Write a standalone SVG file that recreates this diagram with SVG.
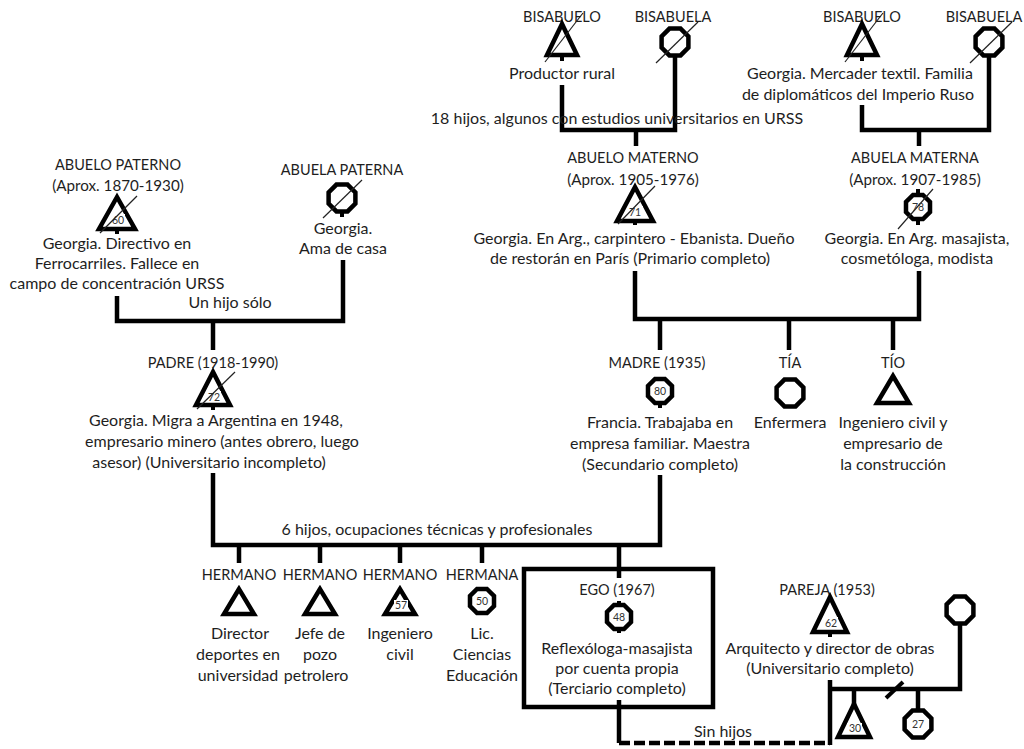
<svg xmlns="http://www.w3.org/2000/svg" xmlns:xlink="http://www.w3.org/1999/xlink" width="1024" height="749" viewBox="0 0 1024 749">
<style>
text{font-family:Lato,"Open Sans","Liberation Sans",sans-serif;font-size:16px;fill:#1e1e1e;text-anchor:middle}
.cap{font-size:14.5px}
.yr{font-size:15.2px}
.num{font-size:10.5px;fill:#333}
.nb{fill:#fff}
.sym{fill:#fff;stroke:#000;stroke-width:4.5;stroke-linejoin:miter}
.ln{fill:none;stroke:#000;stroke-width:4.5;stroke-linecap:butt;stroke-linejoin:miter}
.dash{fill:none;stroke:#000;stroke-width:4.5;stroke-dasharray:11 4}
.dead{stroke:#222;stroke-width:1.2}
</style>
<defs>
<polygon id="octL" class="sym" points="5.55,-13.4 13.4,-5.55 13.4,5.55 5.55,13.4 -5.55,13.4 -13.4,5.55 -13.4,-5.55 -5.55,-13.4"/>
<polygon id="octS" class="sym" points="4.97,-12.01 12.01,-4.97 12.01,4.97 4.97,12.01 -4.97,12.01 -12.01,4.97 -12.01,-4.97 -4.97,-12.01"/>
</defs>
<rect width="1024" height="749" fill="#fff"/>

<g id="connectors">
<path class="ln" d="M562,85 V130 H675 V56"/>
<path class="ln" d="M636,130 V146"/>
<path class="ln" d="M862,105 V130 H989 V56"/>
<path class="ln" d="M919,130 V146"/>
<path class="ln" d="M117,296 V321 H343 V260"/>
<path class="ln" d="M213,321 V350"/>
<path class="ln" d="M635,271 V319 H919 V271"/>
<path class="ln" d="M660,319 V350 M789,319 V350 M893,319 V350"/>
<path class="ln" d="M213,473 V545 H660 V475"/>
<path class="ln" d="M239,545 V563 M320,545 V563 M400,545 V563 M482,545 V563 M619,545 V578"/>
<path class="ln" d="M619,700 V743"/>
<path class="dash" d="M619,743 H830"/>
<path class="ln" d="M830,680 V745"/>
<path class="ln" d="M830,689 H960 V624"/>
<path class="ln" d="M854,689 V706 M918,689 V710"/>
<path class="ln" d="M886,698 L903,682" style="stroke-width:4"/>
</g>

<g id="bisabuelo-p">
<text class="cap" x="562" y="22">BISABUELO</text>
<polygon class="sym" points="562,24 547,55 577,55"/>
<path class="ln" d="M562,55 V61" style="stroke-width:4"/>
<line class="dead" x1="545" y1="62" x2="583" y2="13"/>
<text x="562" y="79">Productor rural</text>
</g>
<g id="bisabuela-p">
<text class="cap" x="673" y="22">BISABUELA</text>
<use href="#octL" x="675" y="42"/>
<line class="dead" x1="656" y1="63" x2="698" y2="22"/>
</g>
<g id="bisabuelo-m">
<text class="cap" x="862" y="22">BISABUELO</text>
<polygon class="sym" points="862,24 847,55 877,55"/>
<path class="ln" d="M862,55 V61" style="stroke-width:4"/>
<line class="dead" x1="845" y1="62" x2="883" y2="13"/>
<text x="860" y="79">Georgia. Mercader textil. Familia</text>
<text x="858" y="100">de diplomáticos del Imperio Ruso</text>
</g>
<g id="bisabuela-m">
<text class="cap" x="984" y="22">BISABUELA</text>
<use href="#octL" x="989" y="42"/>
<line class="dead" x1="970" y1="63" x2="1012" y2="22"/>
</g>
<g id="label-18hijos">
<text x="617" y="124">18 hijos, algunos con estudios universitarios en URSS</text>
</g>

<g id="abuelo-paterno">
<text class="cap" x="118" y="170">ABUELO PATERNO</text>
<text class="yr" x="118" y="191">(Aprox. 1870-1930)</text>
<polygon class="sym" points="117,197 99,229 135,229"/>
<path class="ln" d="M117,229 V234" style="stroke-width:4"/>
<rect class="nb" x="110" y="214" width="15" height="11"/>
<text class="num" x="118" y="223.5">60</text>
<line class="dead" x1="100" y1="233" x2="137" y2="196"/>
<text x="117" y="249">Georgia. Directivo en</text>
<text x="117" y="269">Ferrocarriles. Fallece en</text>
<text x="117" y="289">campo de concentración URSS</text>
</g>
<g id="abuela-paterna">
<text class="cap" x="342" y="175">ABUELA PATERNA</text>
<use href="#octL" x="342" y="198"/>
<path class="ln" d="M342,212 V217" style="stroke-width:4"/>
<line class="dead" x1="323" y1="218" x2="362" y2="180"/>
<text x="343" y="234">Georgia.</text>
<text x="343" y="254">Ama de casa</text>
</g>
<g id="label-unhijo"><text x="230" y="308">Un hijo sólo</text></g>

<g id="abuelo-materno">
<text class="cap" x="633" y="163">ABUELO MATERNO</text>
<text class="yr" x="633" y="185">(Aprox. 1905-1976)</text>
<polygon class="sym" points="635,187 617,221 653,221"/>
<path class="ln" d="M635,221 V225" style="stroke-width:4"/>
<rect class="nb" x="628" y="206" width="15" height="11"/>
<text class="num" x="635" y="215.5">71</text>
<line class="dead" x1="618" y1="224" x2="655" y2="186"/>
<text x="634" y="244">Georgia. En Arg., carpintero - Ebanista. Dueño</text>
<text x="630" y="264">de restorán en París (Primario completo)</text>
</g>
<g id="abuela-materna">
<text class="cap" x="915" y="163">ABUELA MATERNA</text>
<text class="yr" x="915" y="185">(Aprox. 1907-1985)</text>
<path class="ln" d="M918,189 V195 M918,219 V225" style="stroke-width:4"/>
<use href="#octS" x="918" y="207"/>
<line class="dead" x1="898" y1="229" x2="933" y2="189"/>
<text class="num" x="918" y="211">78</text>
<text x="917" y="244">Georgia. En Arg. masajista,</text>
<text x="917" y="264">cosmetóloga, modista</text>
</g>

<g id="padre">
<text class="cap" x="213" y="368">PADRE (1918-1990)</text>
<polygon class="sym" points="213,372 196,405 230,405"/>
<path class="ln" d="M213,405 V410" style="stroke-width:4"/>
<rect class="nb" x="206" y="391" width="15" height="11"/>
<text class="num" x="214" y="400.5">72</text>
<line class="dead" x1="197" y1="409" x2="235" y2="372"/>
<text x="216" y="426">Georgia. Migra a Argentina en 1948,</text>
<text x="222" y="447">empresario minero (antes obrero, luego</text>
<text x="209" y="468">asesor)  (Universitario incompleto)</text>
</g>
<g id="madre">
<text class="cap" x="657" y="368">MADRE (1935)</text>
<use href="#octS" x="660" y="391"/>
<path class="ln" d="M660,403 V408" style="stroke-width:4"/>
<text class="num" x="660" y="395">80</text>
<text x="660" y="428">Francia. Trabajaba en</text>
<text x="660" y="449">empresa familiar. Maestra</text>
<text x="660" y="470">(Secundario completo)</text>
</g>
<g id="tia">
<text class="cap" x="790" y="368">TÍA</text>
<use href="#octL" x="790" y="393"/>
<text x="790" y="428">Enfermera</text>
</g>
<g id="tio">
<text class="cap" x="893" y="368">TÍO</text>
<polygon class="sym" points="893,376 877,403 909,403"/>
<text x="893" y="428">Ingeniero civil y</text>
<text x="893" y="449">empresario de</text>
<text x="893" y="470">la construcción</text>
</g>

<g id="label-6hijos"><text x="437" y="535">6 hijos, ocupaciones técnicas y profesionales</text></g>

<g id="hermano1">
<text class="cap" x="239" y="580">HERMANO</text>
<polygon class="sym" points="239,589 224,614 254,614"/>
<text x="240" y="639">Director</text>
<text x="238" y="660">deportes en</text>
<text x="238" y="681">universidad</text>
</g>
<g id="hermano2">
<text class="cap" x="320" y="580">HERMANO</text>
<polygon class="sym" points="320,589 305,614 335,614"/>
<text x="320" y="639">Jefe de</text>
<text x="320" y="660">pozo</text>
<text x="316" y="681">petrolero</text>
</g>
<g id="hermano3">
<text class="cap" x="400" y="580">HERMANO</text>
<polygon class="sym" points="400,589 385,614 415,614"/>
<rect class="nb" x="394" y="600" width="14" height="10"/>
<text class="num" x="401" y="609">57</text>
<text x="400" y="639">Ingeniero</text>
<text x="400" y="660">civil</text>
</g>
<g id="hermana">
<text class="cap" x="482" y="580">HERMANA</text>
<use href="#octS" x="482" y="601"/>
<text class="num" x="482" y="605">50</text>
<text x="482" y="639">Lic.</text>
<text x="482" y="660">Ciencias</text>
<text x="482" y="681">Educación</text>
</g>

<g id="ego">
<rect x="524" y="569" width="189" height="138" fill="none" stroke="#000" stroke-width="4.5"/>
<text class="cap" x="617" y="595">EGO (1967)</text>
<path class="ln" d="M619,601 V606 M619,628 V633" style="stroke-width:4"/>
<use href="#octS" x="619" y="617"/>
<text class="num" x="619" y="621">48</text>
<text x="617" y="654">Reflexóloga-masajista</text>
<text x="617" y="674">por cuenta propia</text>
<text x="617" y="694">(Terciario completo)</text>
</g>
<g id="label-sinhijos"><text x="723" y="737">Sin hijos</text></g>

<g id="pareja">
<text class="cap" x="827" y="595">PAREJA (1953)</text>
<polygon class="sym" points="830,597 813,632 847,632"/>
<path class="ln" d="M830,632 V637" style="stroke-width:4"/>
<rect class="nb" x="823" y="617" width="15" height="11"/>
<text class="num" x="831" y="626.5">62</text>
<text x="830" y="654">Arquitecto y director de obras</text>
<text x="830" y="674">(Universitario completo)</text>
</g>
<g id="ex-pareja">
<use href="#octL" x="960" y="610"/>
</g>
<g id="hijo-pareja">
<polygon class="sym" points="854,704 838,737 870,737"/>
<rect class="nb" x="847" y="723" width="15" height="10"/>
<text class="num" x="855" y="732">30</text>
</g>
<g id="hija-pareja">
<use href="#octL" x="918" y="724"/>
<text class="num" x="918" y="728">27</text>
</g>
</svg>
